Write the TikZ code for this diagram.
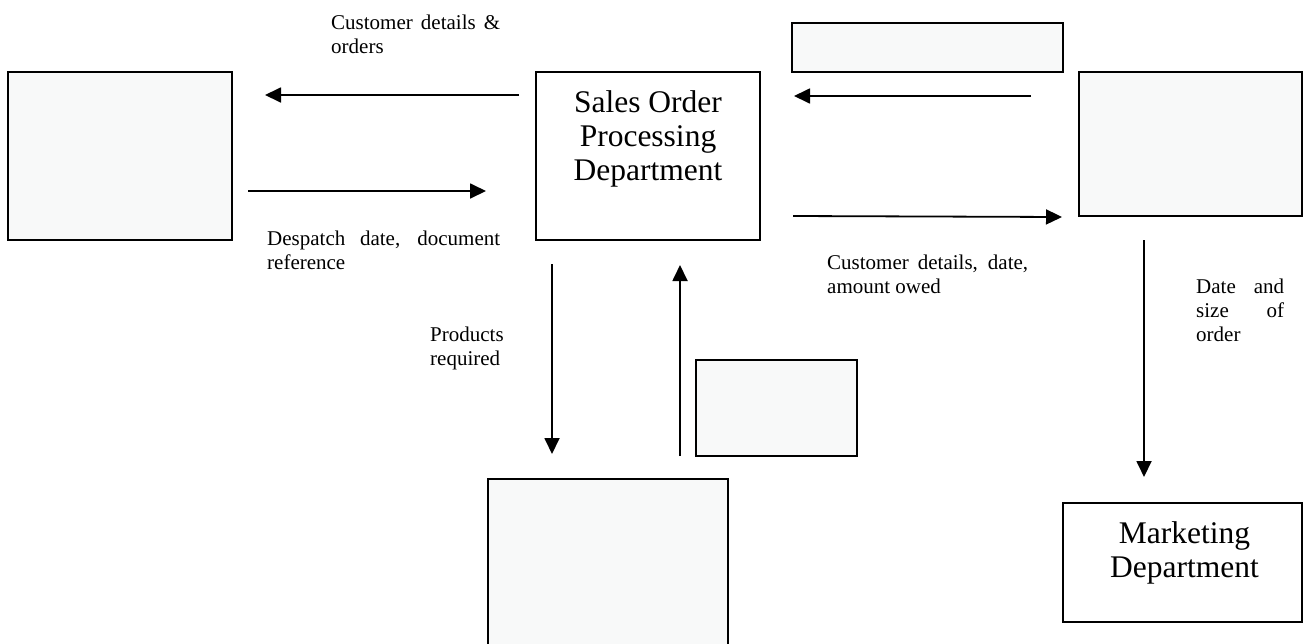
\documentclass[tikz,border=0pt]{standalone}
\usepackage{fontspec}
\setmainfont{Liberation Serif}
\usetikzlibrary{arrows.meta, positioning}

\definecolor{boxfill}{RGB}{248,249,249}
% justified labels: no hyphenation, accept loose lines
\hyphenpenalty=10000
\exhyphenpenalty=10000
\tolerance=10000

\begin{document}
\begin{tikzpicture}[x=1pt, y=-1pt,
    box/.style={draw, line width=2pt, fill=boxfill, inner sep=0pt},
    deptbox/.style={box, fill=white},
    flow/.style={-{Triangle[length=16pt, width=15pt]}, line width=1.8pt},
    note/.style={anchor=base west, inner sep=0pt, align=justify,
      font=\fontsize{21}{24}\selectfont},
    dept/.style={anchor=base, inner sep=0pt, align=center,
      font=\fontsize{31.5}{34}\selectfont}]

  \useasboundingbox (0,0) rectangle (1305,643);
  \clip (0,0) rectangle (1305,643);

  % Boxes (centre and size).
  \node[box, minimum width=224pt, minimum height=168pt] (leftbox) at (120,156) {};
  \node[deptbox, minimum width=224pt, minimum height=168pt] (sales) at (648,156) {};
  \node[box, minimum width=271pt, minimum height=49pt] (topbox) at (927.5,47.5) {};
  \node[box, minimum width=223pt, minimum height=144pt] (rightbox) at (1190.5,144) {};
  \node[box, minimum width=161pt, minimum height=96pt] (midbox) at (776.5,408) {};
  \node[box, minimum width=240pt, minimum height=221pt] (lowbox) at (608,589.5) {};
  \node[deptbox, minimum width=239pt, minimum height=119pt] (marketing) at (1182.5,562.5) {};

  % Department names (base = last line).
  \node[dept] (salesname) at ([yshift=-109pt]sales.north)
    {Sales Order\\Processing\\Department};
  \node[dept] (marketingname) at ([xshift=2pt, yshift=-75pt]marketing.north)
    {Marketing\\Department};

  % Flows between the boxes.
  \draw[flow] ([xshift=-16pt, yshift=61pt]sales.west)
    -- ([xshift=32pt, yshift=61pt]leftbox.east);
  \draw[flow] ([xshift=15pt, yshift=-35pt]leftbox.east)
    -- ([xshift=-49pt, yshift=-35pt]sales.west);
  \draw[flow] ([xshift=-47pt, yshift=48pt]rightbox.west)
    -- ([xshift=33pt, yshift=60pt]sales.east);
  \draw[flow] ([xshift=32pt, yshift=-60pt]sales.east)
    -- ([xshift=-16pt]rightbox.south west);
  \draw[flow] ([xshift=-96pt, yshift=-23pt]sales.south)
    -- ([xshift=-56pt, yshift=24pt]lowbox.north);
  \draw[flow] ([xshift=72pt, yshift=22pt]lowbox.north)
    -- ([xshift=32pt, yshift=-24pt]sales.south);
  \draw[flow] ([xshift=-46.5pt, yshift=-23pt]rightbox.south)
    -- ([xshift=-38.5pt, yshift=25pt]marketing.north);

  % Flow labels.
  \node[note, text width=169pt] (orders) at (331,29)
    {Customer details \& orders};
  \node[note, text width=233pt] (despatch) at (267,245)
    {Despatch date, document reference};
  \node[note, text width=201pt] (owed) at (827,269)
    {Customer details, date, amount owed};
  \node[note, text width=80pt] (products) at (430,341)
    {Products required};
  \node[note, text width=88pt] (ordersize) at (1196,293)
    {Date and size of order};

\end{tikzpicture}
\end{document}
